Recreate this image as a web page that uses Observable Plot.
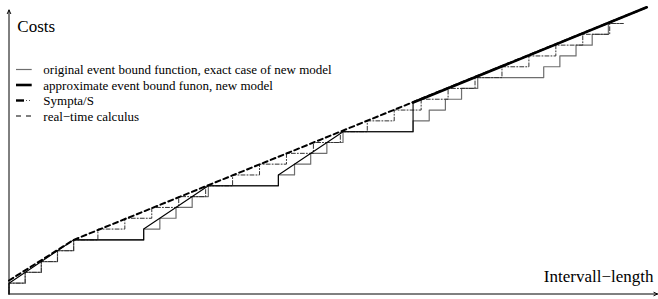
<!DOCTYPE html>
<html><head><meta charset="utf-8">
<script src="https://cdn.jsdelivr.net/npm/d3@7"></script>
<script src="https://cdn.jsdelivr.net/npm/@observablehq/plot@0.6"></script>
<style>
html,body{margin:0;padding:0;background:#fff;}
#chart{position:relative;width:658px;height:299px;}
#chart svg text.lab{font-family:'Liberation Serif','Times New Roman',serif !important;}
</style></head><body><div id="chart"></div>
<script>
// Original event bound function (exact case of new model): event times and cumulative costs
const exactTimes = [0,1.2,2.4,3.6,4.8, 10,11.2,12.4,13.6,14.8, 20,21.2,22.4,23.6,24.8, 30,31.2,32.4,33.6,34.8, 39.7,40.9,42.1,43.3,44.5];
const exactCosts = [1,2,3,4,5, 6,7,8,9,10, 11,12,13,14,15, 16,17,18,19,20, 21,22,23,24,25];
const stepsEnd = 45.6;

// Sympta/S event bound
const symptaTimes = [0,1.2,2.4,3.6,4.8, 6.6,8.6,10.6,12.6,14.6, 16.6,18.6,20.6,22.6,24.6, 26.6,28.6,30.6,32.6,34.6, 36.6,38.6,40.6,42.6,44.6];
const symptaCosts = [1,2,3,4,5, 6,7,8,9,10, 11,12,13,14,15, 16,17,18,19,20, 21,22,23,24,25];

// Approximate event bound function, new model (exact part, then linear part)
const approxX = [0,0,4.8,10,10,14.8,20,20,24.8,30,30];
const approxY = [0,1,5,5,6,10,10,11,15,15,17.7];
const approxLinX = [30,47.35];
const approxLinY = [17.7,26.5];

// Real-time calculus arrival curve
const rtcX = [0,4.8,47.35];
const rtcY = [1.25,5,26.5];

// Axis extents
const axisXEnd = 48.15;
const axisYEnd = 26.25;

const legendLabels = [
  "original event bound function, exact case of new model",
  "approximate event bound funon, new model",
  "Sympta/S",
  "real\u2212time calculus"
];
const yLabel = "Costs";
const xLabel = "Intervall\u2212length";

const stepData = (ts, cs) => [{x:0,y:0}, ...ts.map((t,i)=>({x:t,y:cs[i]})), {x:stepsEnd,y:cs[cs.length-1]}];
const zip = (xs, ys) => xs.map((x,i)=>({x, y:ys[i]}));

const plot = Plot.plot({
  width: 658, height: 299,
  marginLeft: 8.5, marginRight: 3, marginTop: 10, marginBottom: 5.5,
  x: {domain:[0,48], axis:null},
  y: {domain:[0,26.2], axis:null},
  style: {background:"#fff", overflow:"visible"},
  marks: [
    Plot.arrow([{x1:0,y1:0,x2:axisXEnd,y2:0}], {x1:"x1",y1:"y1",x2:"x2",y2:"y2", stroke:"#000", strokeWidth:1, headLength:6, headAngle:50}),
    Plot.arrow([{x1:0,y1:0,x2:0,y2:axisYEnd}], {x1:"x1",y1:"y1",x2:"x2",y2:"y2", stroke:"#000", strokeWidth:1, headLength:6, headAngle:50}),
    Plot.line(stepData(exactTimes, exactCosts), {x:"x", y:"y", curve:"step-after", stroke:"#6e6e6e", strokeWidth:1.2}),
    Plot.line(stepData(symptaTimes, symptaCosts), {x:"x", y:"y", curve:"step-after", stroke:"#333", strokeWidth:1, strokeDasharray:"4,2,1,2"}),
    Plot.line(zip(approxX, approxY), {x:"x", y:"y", stroke:"#000", strokeWidth:1.1}),
    Plot.line(zip(rtcX, rtcY), {x:"x", y:"y", stroke:"#000", strokeWidth:2, strokeDasharray:"5,3.5"}),
    Plot.line(zip(approxLinX, approxLinY), {x:"x", y:"y", stroke:"#000", strokeWidth:2.6})
  ]
});
document.getElementById("chart").appendChild(plot);

const svg = d3.select(plot);
const font = "'Liberation Serif','Times New Roman',serif";
const addText = (sel, x, y, size, anchor, txt) => sel.append("text").attr("class","lab")
  .attr("x",x).attr("y",y).attr("text-anchor",anchor)
  .style("font-family",font).style("font-size",size+"px").style("fill","#000").text(txt);
addText(svg, 17.3, 31.7, 17, "start", yLabel);
addText(svg, 653.5, 281.7, 17, "end", xLabel);

const lg = svg.append("g");
const rowsY = [69.5, 85, 100.5, 116];
legendLabels.forEach((lab,i)=> addText(lg, 43.3, rowsY[i]+4.5, 13, "start", lab));
lg.append("line").attr("x1",16).attr("x2",31.7).attr("y1",rowsY[0]).attr("y2",rowsY[0]).attr("stroke","#6e6e6e").attr("stroke-width",1.2);
lg.append("line").attr("x1",16).attr("x2",31.7).attr("y1",rowsY[1]).attr("y2",rowsY[1]).attr("stroke","#000").attr("stroke-width",2.6);
lg.append("line").attr("x1",16).attr("x2",24).attr("y1",rowsY[2]).attr("y2",rowsY[2]).attr("stroke","#000").attr("stroke-width",2.4);
lg.append("line").attr("x1",26).attr("x2",32).attr("y1",rowsY[2]).attr("y2",rowsY[2]).attr("stroke","#555").attr("stroke-width",1).attr("stroke-dasharray","1,2");
lg.append("line").attr("x1",16).attr("x2",31.7).attr("y1",rowsY[3]).attr("y2",rowsY[3]).attr("stroke","#000").attr("stroke-width",1.2).attr("stroke-dasharray","5,5");
</script></body></html>
